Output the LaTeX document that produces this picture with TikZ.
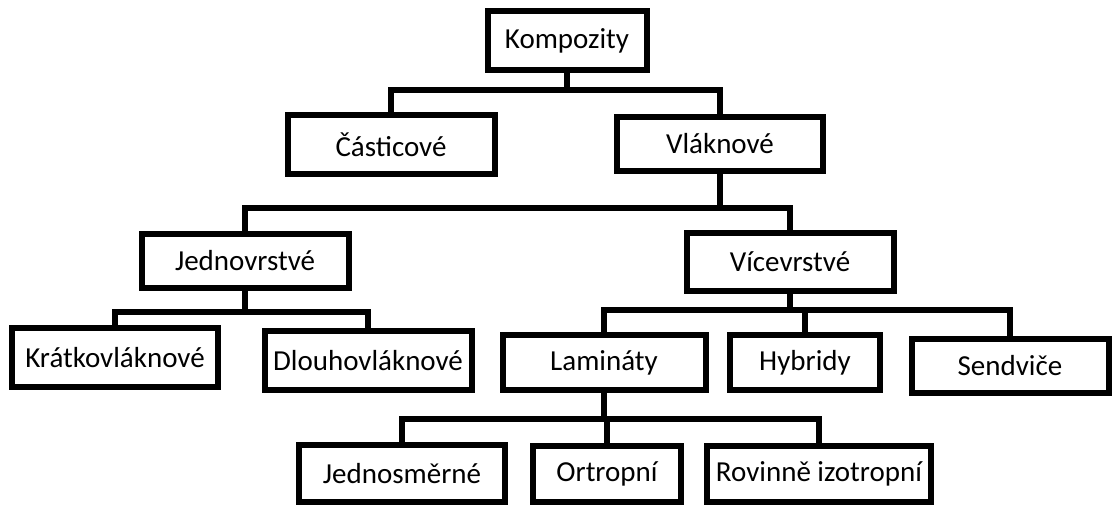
\documentclass[tikz,border=0pt]{standalone}
\usepackage{fontspec}
\setmainfont{Carlito}
\usetikzlibrary{calc}

% connector from parent down to a bus line, then across and down into the child
\newcommand{\branch}[3]{\draw[link] (#1.south) -- (#1.south |- 0,#2) -| (#3.north);}

\begin{document}
\begin{tikzpicture}[x=0.5pt, y=-0.5pt,
        box/.style={draw, rectangle, line width=3pt, inner sep=2pt,
            font=\fontsize{14.5}{17}\selectfont},
        link/.style={line width=2.8pt}]
        % --- 1. Canvas ---
        \useasboundingbox (0,0) rectangle (1114,507);

        % --- 2. Top levels ---
        \node[box, minimum width=79.5pt, minimum height=29.5pt] (komp) at (567,41) {Kompozity};
        \node[box, minimum width=103.5pt, minimum height=29.5pt] (cas) at (391,145) {Částicové};
        \node[box, minimum width=103pt, minimum height=27pt] (vla) at (720,144) {Vláknové};

        \node[box, minimum width=103.5pt, minimum height=27pt] (jed) at (245,261) {Jednovrstvé};
        \node[box, minimum width=103.5pt, minimum height=29pt] (vic) at (790,262) {Vícevrstvé};

        % --- 3. Single layer ---
        \node[box, minimum width=103pt, minimum height=29.5pt] (kra) at (115,358) {Krátkovláknové};
        \node[box, minimum width=103.5pt, minimum height=29.5pt] (dlo) at (368,361) {Dlouhovláknové};

        % --- 4. Multi layer ---
        \node[box, minimum width=101.5pt, minimum height=27.5pt] (lam) at (604,363) {Lamináty};
        \node[box, minimum width=75pt, minimum height=27.5pt] (hyb) at (805,363) {Hybridy};
        \node[box, minimum width=98.5pt, minimum height=27pt] (sen) at (1010,366) {Sendviče};

        % --- 5. Laminates ---
        \node[box, minimum width=103pt, minimum height=28.5pt] (jsm) at (402,474) {Jednosměrné};
        \node[box, minimum width=74pt, minimum height=28pt] (ort) at (607,474) {Ortropní};
        \node[box, minimum width=112pt, minimum height=28pt] (rov) at (819,474) {Rovinně izotropní};

        % --- 6. Connectors ---
        \branch{komp}{90}{cas}
        \branch{komp}{90}{vla}
        \branch{vla}{208}{jed}
        \branch{vla}{208}{vic}
        \branch{jed}{312}{kra}
        \branch{jed}{312}{dlo}
        \foreach \c in {lam,hyb,sen}{
            \branch{vic}{310}{\c}
        }
        \foreach \c in {jsm,ort,rov}{
            \branch{lam}{419}{\c}
        }
\end{tikzpicture}
\end{document}
